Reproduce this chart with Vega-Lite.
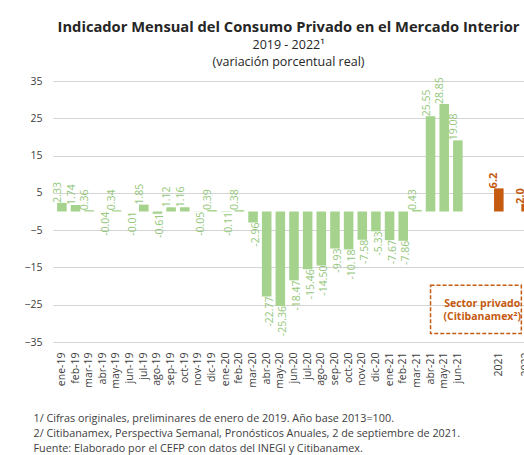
{
  "$schema": "https://vega.github.io/schema/vega-lite/v6.json",
  "width": 471,
  "height": 261,
  "autosize": {"type": "none"},
  "padding": {"left": 53, "top": 81, "right": 0, "bottom": 113},
  "background": "white",
  "config": {"font": "Open Sans", "view": {"stroke": null}},
  "title": {
    "text": "Indicador Mensual del Consumo Privado en el Mercado Interior",
    "subtitle": ["2019 - 2022¹", "(variación porcentual real)"],
    "fontSize": 14.7,
    "fontWeight": "bold",
    "color": "#262626",
    "subtitleFontSize": 12.5,
    "subtitleColor": "#262626",
    "subtitlePadding": 4,
    "subtitleLineHeight": 17,
    "offset": 8,
    "anchor": "middle"
  },
  "data": {
    "values": [
      {"mes": "ene-19", "valor": 2.33, "etiqueta": "2.33", "tipo": "IMCP"},
      {"mes": "feb-19", "valor": 1.74, "etiqueta": "1.74", "tipo": "IMCP"},
      {"mes": "mar-19", "valor": 0.36, "etiqueta": "0.36", "tipo": "IMCP"},
      {"mes": "abr-19", "valor": -0.04, "etiqueta": "-0.04", "tipo": "IMCP"},
      {"mes": "may-19", "valor": 0.34, "etiqueta": "0.34", "tipo": "IMCP"},
      {"mes": "jun-19", "valor": -0.01, "etiqueta": "-0.01", "tipo": "IMCP"},
      {"mes": "jul-19", "valor": 1.85, "etiqueta": "1.85", "tipo": "IMCP"},
      {"mes": "ago-19", "valor": -0.61, "etiqueta": "-0.61", "tipo": "IMCP"},
      {"mes": "sep-19", "valor": 1.12, "etiqueta": "1.12", "tipo": "IMCP"},
      {"mes": "oct-19", "valor": 1.16, "etiqueta": "1.16", "tipo": "IMCP"},
      {"mes": "nov-19", "valor": -0.05, "etiqueta": "-0.05", "tipo": "IMCP"},
      {"mes": "dic-19", "valor": 0.39, "etiqueta": "0.39", "tipo": "IMCP"},
      {"mes": "ene-20", "valor": -0.11, "etiqueta": "-0.11", "tipo": "IMCP"},
      {"mes": "feb-20", "valor": 0.38, "etiqueta": "0.38", "tipo": "IMCP"},
      {"mes": "mar-20", "valor": -2.96, "etiqueta": "-2.96", "tipo": "IMCP"},
      {"mes": "abr-20", "valor": -22.77, "etiqueta": "-22.77", "tipo": "IMCP"},
      {"mes": "may-20", "valor": -25.36, "etiqueta": "-25.36", "tipo": "IMCP"},
      {"mes": "jun-20", "valor": -18.47, "etiqueta": "-18.47", "tipo": "IMCP"},
      {"mes": "jul-20", "valor": -15.46, "etiqueta": "-15.46", "tipo": "IMCP"},
      {"mes": "ago-20", "valor": -14.5, "etiqueta": "-14.50", "tipo": "IMCP"},
      {"mes": "sep-20", "valor": -9.93, "etiqueta": "-9.93", "tipo": "IMCP"},
      {"mes": "oct-20", "valor": -10.18, "etiqueta": "-10.18", "tipo": "IMCP"},
      {"mes": "nov-20", "valor": -7.58, "etiqueta": "-7.58", "tipo": "IMCP"},
      {"mes": "dic-20", "valor": -5.33, "etiqueta": "-5.33", "tipo": "IMCP"},
      {"mes": "ene-21", "valor": -7.67, "etiqueta": "-7.67", "tipo": "IMCP"},
      {"mes": "feb-21", "valor": -7.86, "etiqueta": "-7.86", "tipo": "IMCP"},
      {"mes": "mar-21", "valor": 0.43, "etiqueta": "0.43", "tipo": "IMCP"},
      {"mes": "abr-21", "valor": 25.55, "etiqueta": "25.55", "tipo": "IMCP"},
      {"mes": "may-21", "valor": 28.85, "etiqueta": "28.85", "tipo": "IMCP"},
      {"mes": "jun-21", "valor": 19.08, "etiqueta": "19.08", "tipo": "IMCP"},
      {"mes": "2021", "valor": 6.2, "etiqueta": "6.2", "tipo": "Citibanamex"},
      {"mes": "2022", "valor": 2.0, "etiqueta": "2.0", "tipo": "Citibanamex"}
    ]
  },
  "encoding": {
    "x": {
      "field": "mes",
      "type": "nominal",
      "sort": null,
      "scale": {
        "domain": ["ene-19", "feb-19", "mar-19", "abr-19", "may-19", "jun-19", "jul-19", "ago-19", "sep-19", "oct-19", "nov-19", "dic-19", "ene-20", "feb-20", "mar-20", "abr-20", "may-20", "jun-20", "jul-20", "ago-20", "sep-20", "oct-20", "nov-20", "dic-20", "ene-21", "feb-21", "mar-21", "abr-21", "may-21", "jun-21", " ", "  ", "2021", "   ", "2022"],
        "range": [0, 482],
        "paddingInner": 0.3,
        "paddingOuter": 0.3
      },
      "axis": {
        "labelAngle": -90,
        "labelAlign": "right",
        "labelBaseline": "middle",
        "labelPadding": 10,
        "labelFontSize": 10.5,
        "labelColor": "#404040",
        "labelOverlap": false,
        "ticks": false,
        "domain": false,
        "grid": false,
        "title": [
          "1/ Cifras originales, preliminares de enero de 2019. Año base 2013=100.",
          "2/ Citibanamex, Perspectiva Semanal, Pronósticos Anuales, 2 de septiembre de 2021.",
          "Fuente: Elaborado por el CEFP con datos del INEGI y Citibanamex."
        ],
        "titleFontSize": 10.8,
        "titleFontWeight": "normal",
        "titleColor": "#404040",
        "titleAlign": "left",
        "titleAnchor": "start",
        "titleBaseline": "top",
        "titleX": -20,
        "titleY": 70,
        "titleLineHeight": 15
      }
    },
    "y": {
      "field": "valor",
      "type": "quantitative",
      "scale": {"domain": [-35, 35], "nice": false, "zero": false},
      "axis": {
        "values": [-35, -25, -15, -5, 5, 15, 25, 35],
        "grid": true,
        "gridColor": "#d4d4d4",
        "domain": false,
        "ticks": false,
        "labelOverlap": false,
        "labelPadding": 11,
        "labelFontSize": 10.5,
        "labelColor": "#404040",
        "title": null
      }
    }
  },
  "layer": [
    {
      "mark": {"type": "bar"},
      "encoding": {
        "y2": {"datum": 0},
        "color": {
          "field": "tipo",
          "type": "nominal",
          "scale": {"domain": ["IMCP", "Citibanamex"], "range": ["#A5D38D", "#C55A11"]},
          "legend": null
        }
      }
    },
    {
      "transform": [{"filter": "datum.valor >= 0 && datum.tipo == 'IMCP'"}],
      "mark": {"type": "text", "angle": -90, "align": "left", "baseline": "middle", "dy": -4, "fontSize": 10.5, "color": "#94C77B"},
      "encoding": {
        "text": {"field": "etiqueta"}
      }
    },
    {
      "transform": [{"filter": "datum.valor < 0"}],
      "mark": {"type": "text", "angle": -90, "align": "right", "baseline": "middle", "dy": 3, "fontSize": 10.5, "color": "#94C77B"},
      "encoding": {
        "text": {"field": "etiqueta"}
      }
    },
    {
      "transform": [{"filter": "datum.tipo == 'Citibanamex'"}],
      "mark": {"type": "text", "angle": -90, "align": "left", "baseline": "middle", "dy": -5, "fontSize": 11, "fontWeight": "bold", "color": "#C55A11"},
      "encoding": {
        "text": {"field": "etiqueta"}
      }
    },
    {
      "data": {"values": [{"desde": "abr-21", "hasta": "2022", "arriba": -19.8, "abajo": -32.7}]},
      "mark": {"type": "rect", "fill": "transparent", "stroke": "#C55A11", "strokeWidth": 1.5, "strokeDash": [4, 2]},
      "encoding": {
        "x": {"field": "desde", "type": "nominal", "bandPosition": 0.5},
        "x2": {"field": "hasta", "bandPosition": 0},
        "y": {"field": "arriba", "type": "quantitative"},
        "y2": {"field": "abajo"}
      }
    },
    {
      "data": {"values": [{"pos": "  ", "arriba": -24.9, "texto": ["Sector privado", "(Citibanamex²)"]}]},
      "mark": {"type": "text", "align": "center", "baseline": "middle", "dx": -3, "lineHeight": 13, "fontSize": 10.5, "fontWeight": "bold", "color": "#C55A11"},
      "encoding": {
        "x": {"field": "pos", "type": "nominal"},
        "y": {"field": "arriba", "type": "quantitative"},
        "text": {"field": "texto"}
      }
    }
  ]
}
